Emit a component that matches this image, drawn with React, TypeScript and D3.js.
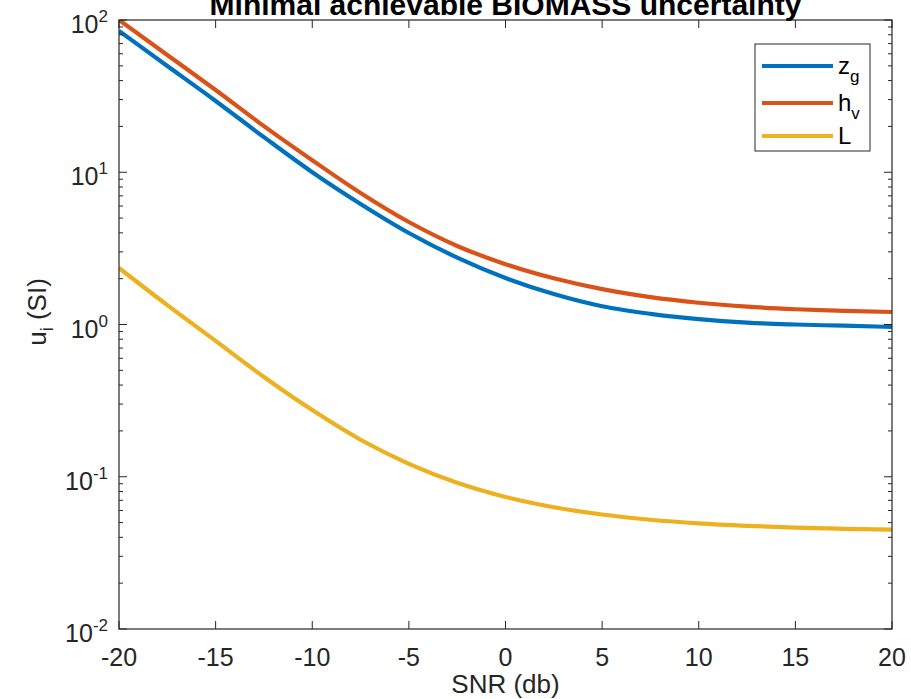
import React from "react";
import * as d3 from "d3";

const snr = [-20, -17.5, -15, -12.5, -10, -7.5, -5, -2.5, 0, 2.5, 5, 7.5, 10, 12.5, 15, 17.5, 20];
const zg = [84.7, 49.9, 29.4, 17.0, 10.0, 6.19, 3.99, 2.75, 2.02, 1.585, 1.318, 1.175, 1.084, 1.028, 1.0, 0.982, 0.964];
const hv = [100, 58.9, 34.7, 20.1, 12.0, 7.31, 4.71, 3.28, 2.49, 2.01, 1.706, 1.514, 1.39, 1.309, 1.259, 1.227, 1.208];
const L = [2.35, 1.34, 0.78, 0.452, 0.274, 0.175, 0.1216, 0.0912, 0.0736, 0.0631, 0.0565, 0.0522, 0.0494, 0.0476, 0.0463, 0.0455, 0.045];

const xTicks = [-20, -15, -10, -5, 0, 5, 10, 15, 20];
const yExps = [-2, -1, 0, 1, 2];

const series = [
  { name: "z", sub: "g", values: zg, color: "#0072BD" },
  { name: "h", sub: "v", values: hv, color: "#D95319" },
  { name: "L", sub: "", values: L, color: "#EDB120" },
];

const W = 911, H = 699;
const left = 119, right = 892, top = 20, bottom = 629;
const axisColor = "#262626";
const font = "'Liberation Sans', Arial, sans-serif";

export default function App() {
  const x = d3.scaleLinear().domain([-20, 20]).range([left, right]);
  const y = d3.scaleLog().domain([0.01, 100]).range([bottom, top]);
  const line = d3
    .line<number>()
    .x((_, i) => x(snr[i]))
    .y((d) => y(d))
    .curve(d3.curveMonotoneX);

  const minor: number[] = [];
  for (let e = -2; e < 2; e++) for (let m = 2; m <= 9; m++) minor.push(m * Math.pow(10, e));

  return (
    <svg width={W} height={H} style={{ position: "absolute", left: 0, top: 0, background: "#fff" }}>
      <rect x={0} y={0} width={W} height={H} fill="#fff" />
      <defs>
        <clipPath id="plotclip">
          <rect x={left} y={top} width={right - left} height={bottom - top} />
        </clipPath>
      </defs>
      <g clipPath="url(#plotclip)">
        {series.map((s) => (
          <path key={s.name} d={line(s.values) || ""} fill="none" stroke={s.color} strokeWidth={4.2} strokeLinejoin="round" />
        ))}
      </g>
      <rect x={left} y={top} width={right - left} height={bottom - top} fill="none" stroke={axisColor} strokeWidth={1.2} />
      {xTicks.map((t) => (
        <g key={"x" + t}>
          <line x1={x(t)} x2={x(t)} y1={bottom} y2={bottom - 8} stroke={axisColor} strokeWidth={1} />
          <line x1={x(t)} x2={x(t)} y1={top} y2={top + 8} stroke={axisColor} strokeWidth={1} />
          <text x={x(t)} y={666} textAnchor="middle" fontFamily={font} fontSize={25} fill={axisColor}>
            {t}
          </text>
        </g>
      ))}
      {yExps.map((e) => {
        const v = Math.pow(10, e);
        const yy = y(v);
        return (
          <g key={"y" + e}>
            <line x1={left} x2={left + 8} y1={yy} y2={yy} stroke={axisColor} strokeWidth={1} />
            <line x1={right} x2={right - 8} y1={yy} y2={yy} stroke={axisColor} strokeWidth={1} />
            <text x={108} y={yy + 13} textAnchor="end" fontFamily={font} fontSize={25} fill={axisColor}>
              10
              <tspan fontSize={17} dy={-11}>{String(e)}</tspan>
            </text>
          </g>
        );
      })}
      {minor.map((v, i) => (
        <g key={"m" + i}>
          <line x1={left} x2={left + 4} y1={y(v)} y2={y(v)} stroke={axisColor} strokeWidth={1} />
          <line x1={right} x2={right - 4} y1={y(v)} y2={y(v)} stroke={axisColor} strokeWidth={1} />
        </g>
      ))}
      <text x={(left + right) / 2} y={693} textAnchor="middle" fontFamily={font} fontSize={26} fill={axisColor}>
        SNR (db)
      </text>
      <text transform={`translate(46,312) rotate(-90)`} textAnchor="middle" fontFamily={font} fontSize={26} fill={axisColor}>
        u<tspan fontSize={18} dy={7}>i</tspan>
        <tspan dy={-7}> (SI)</tspan>
      </text>
      <text x={(left + right) / 2} y={15} textAnchor="middle" fontFamily={font} fontSize={30} fontWeight="bold" fill="#000">
        Minimal achievable BIOMASS uncertainty
      </text>
      <g>
        <rect x={755} y={44} width={115} height={107} fill="#fff" stroke={axisColor} strokeWidth={1} />
        {series.map((s, i) => {
          const ly = [66, 103, 136][i];
          return (
            <g key={"l" + s.name}>
              <line x1={762} x2={833} y1={ly} y2={ly} stroke={s.color} strokeWidth={4.2} />
              <text x={838} y={ly + 8} fontFamily={font} fontSize={24} fill="#000">
                {s.name}
                {s.sub ? (
                  <tspan fontSize={17} dy={8}>{s.sub}</tspan>
                ) : null}
              </text>
            </g>
          );
        })}
      </g>
    </svg>
  );
}
